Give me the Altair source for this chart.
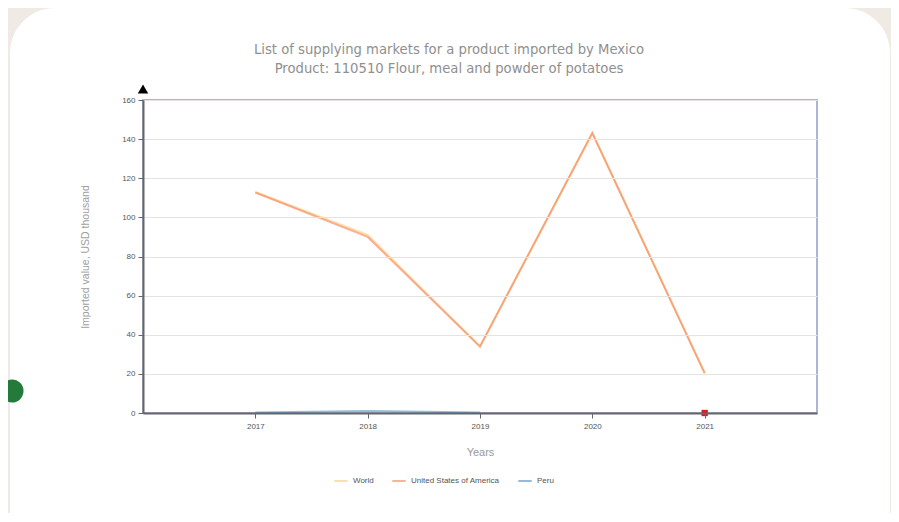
import altair as alt
import pandas as pd

years = [2017, 2018, 2019, 2020, 2021]
world = [113, 91, 34.2, 143.1, 20.4]
usa = [112.7, 90.0, 33.9, 143.1, 20.4]
peru_years = [2017, 2018, 2019]
peru = [0.3, 1.0, 0.3]
marker_year = [2021]
marker_value = [0]
y_ticks = [0, 20, 40, 60, 80, 100, 120, 140, 160]
title_lines = ["List of supplying markets for a product imported by Mexico",
               "Product: 110510 Flour, meal and powder of potatoes"]

series_names = ["World", "United States of America", "Peru"]
series_colors = ["#fdc15c", "#f26a3c", "#2c7bb6"]

rows = []
for y, v in zip(years, world):
    rows.append({"year": y, "value": v, "series": "World"})
for y, v in zip(years, usa):
    rows.append({"year": y, "value": v, "series": "United States of America"})
for y, v in zip(peru_years, peru):
    rows.append({"year": y, "value": v, "series": "Peru"})
df = pd.DataFrame(rows)
marker_df = pd.DataFrame({"year": marker_year, "value": marker_value})
one = pd.DataFrame({"a": [0]})

W, H = 674, 313

x_scale = alt.Scale(domain=[2016, 2022], nice=False, zero=False)
y_scale = alt.Scale(domain=[0, 160], nice=False)

x_axis = alt.Axis(title="Years", values=years, format="d", grid=False,
                  domainColor="#666", domainWidth=2, tickColor="#666",
                  labelFontSize=8, labelColor="#555", titleFontSize=11,
                  titleColor="#999", titleFontWeight="normal",
                  titlePadding=16, labelPadding=4, tickSize=5, zindex=1)
y_axis = alt.Axis(title="Imported value, USD thousand",
                  values=y_ticks, grid=True, labelOverlap=False,
                  gridColor="#e3e3e3", domainColor="#666", domainWidth=2,
                  tickColor="#666", labelFontSize=8, labelColor="#555",
                  titleFontSize=10.5, titleColor="#a0a0a0", titleFontWeight="normal",
                  titlePadding=31, labelPadding=3, tickSize=5, zindex=1)

card = alt.Chart(one).mark_rect(fill="white", cornerRadius=45).encode(
    x=alt.value(-133), x2=alt.value(747), y=alt.value(-92), y2=alt.value(560)
)
dot = alt.Chart(one).mark_circle(color="#237a3b", opacity=1, size=530).encode(
    x=alt.value(-131), y=alt.value(291)
)
border = alt.Chart(one).mark_rect(fill=None, stroke="#aab6d6", strokeWidth=2).encode(
    x=alt.value(0), x2=alt.value(W), y=alt.value(0), y2=alt.value(H)
)
title1 = alt.Chart(one).mark_text(text=title_lines[0], fontSize=13.2, color="#8f8f8f",
                                  font="DejaVu Sans", align="center", baseline="middle").encode(
    x=alt.value(306), y=alt.value(-50)
)
title2 = alt.Chart(one).mark_text(text=title_lines[1], fontSize=13.2, color="#8f8f8f",
                                  font="DejaVu Sans", align="center", baseline="middle").encode(
    x=alt.value(306), y=alt.value(-31)
)

lines = alt.Chart(df).mark_line(strokeWidth=2, opacity=0.5).encode(
    x=alt.X("year:Q", scale=x_scale, axis=x_axis),
    y=alt.Y("value:Q", scale=y_scale, axis=y_axis),
    color=alt.Color("series:N", sort=series_names,
                    scale=alt.Scale(domain=series_names, range=series_colors),
                    legend=alt.Legend(title=None, orient="none", direction="horizontal",
                                      legendX=190, legendY=373, symbolType="stroke",
                                      symbolStrokeWidth=2, symbolSize=180,
                                      labelFontSize=8, labelColor="#555",
                                      columnPadding=14)),
    detail="series:N",
)

marker = alt.Chart(marker_df).mark_point(shape="square", filled=True, color="#e8141a",
                                         size=40, opacity=1).encode(
    x=alt.X("year:Q", scale=x_scale, axis=x_axis),
    y=alt.Y("value:Q", scale=y_scale, axis=y_axis)
)

arrow = alt.Chart(one).mark_point(shape="triangle-up", filled=True, color="black",
                                  size=110, opacity=1).encode(
    x=alt.value(0), y=alt.value(-11)
)

chart = alt.layer(card, dot, title1, title2, border, lines, marker, arrow).properties(
    width=W, height=H,
    autosize=alt.AutoSizeParams(type="none"),
    padding={"left": 135, "top": 92, "right": 74, "bottom": 100},
    background="#efebe4",
).configure_view(stroke=None).configure(font="Liberation Sans")

chart.save("out.html", embed_options={"renderer": "svg", "actions": False})
